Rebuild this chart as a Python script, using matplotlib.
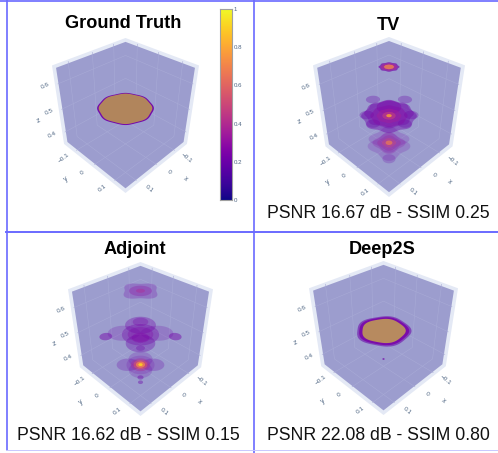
import numpy as np
import matplotlib
matplotlib.use("Agg")
import matplotlib.pyplot as plt

plt.rcParams['font.family'] = ['Liberation Sans', 'DejaVu Sans']

# ---- data: every layer is one iso-surface slice of the reconstructed volume
titles = ["Ground Truth", "TV", "Adjoint", "Deep2S"]
metrics = [None, "PSNR 16.67 dB - SSIM 0.25", "PSNR 16.62 dB - SSIM 0.15", "PSNR 22.08 dB - SSIM 0.80"]
x_ticks = [-0.1, 0.0, 0.1]
y_ticks = [-0.1, 0.0, 0.1]
z_ticks = [0.4, 0.5, 0.6]
tick_text = {-0.1: "\u22120.1", 0.0: "0", 0.1: "0.1"}
cbar_ticks = [0, 0.2, 0.4, 0.6, 0.8, 1]
cbar_text = ["0", "0.2", "0.4", "0.6", "0.8", "1"]

gt_x = [0, 0]; gt_y = [0, 0]
gt_z = [0.512, 0.512]
gt_r = [0.094, 0.089]
gt_val = [0.22, 0.80]
gt_alpha = [0.95, 0.62]
gt_lobes = [8, 8]
gt_amp = [0.018, 0.018]
gt_shade = [1, 0.82]

tv_x = [0, 0, 0, -0.052, 0.052, -0.076, 0.001, -0.002, 0.069, 0, 0, 0, 0, 0, 0, 0, 0.052, 0, 0, 0, 0, 0, 0]
tv_y = [0, 0, 0, 0.052, -0.052, 0.001, -0.076, 0.069, -0.002, 0, 0, 0, 0, 0, 0, 0, 0.052, 0, 0, 0, 0, 0, 0]
tv_z = [0.665, 0.665, 0.665, 0.488, 0.488, 0.515, 0.515, 0.488, 0.488, 0.485, 0.495, 0.52, 0.485, 0.485, 0.485, 0.485,
        0.36, 0.385, 0.352, 0.367, 0.367, 0.367, 0.367]
tv_r = [0.03, 0.024, 0.015, 0.024, 0.024, 0.024, 0.024, 0.022, 0.022, 0.088, 0.078, 0.04, 0.06, 0.04, 0.022, 0.009,
        0.022, 0.062, 0.066, 0.052, 0.038, 0.024, 0.012]
tv_val = [0.22, 0.4, 0.72, 0.2, 0.2, 0.2, 0.2, 0.2, 0.2, 0.2, 0.22, 0.24, 0.28, 0.36, 0.5, 0.8,
          0.2, 0.22, 0.22, 0.3, 0.36, 0.5, 0.7]
tv_alpha = [0.65, 0.65, 0.75, 0.3, 0.3, 0.3, 0.3, 0.3, 0.3, 0.42, 0.35, 0.4, 0.4, 0.45, 0.5, 0.8,
            0.22, 0.18, 0.18, 0.22, 0.28, 0.4, 0.65]
tv_lobes = [8, 8, 8, 4, 4, 4, 4, 4, 4, 8, 8, 4, 8, 8, 8, 4, 4, 4, 4, 4, 4, 4, 4]
tv_amp = [0.05, 0.03, 0.03, 0, 0, 0, 0, 0, 0, 0.05, 0.05, 0, 0.03, 0.03, 0, 0, 0, 0.15, 0.15, 0.12, 0.1, 0.05, 0]

adj_x = [0, 0, 0, 0, -0.085, 0.085, 0, 0, 0, 0, 0, 0, 0, 0, 0.04, 0.052, 0, 0, 0, 0, 0, 0, 0]
adj_y = [0, 0, 0, 0, 0.085, -0.085, 0, 0, 0, 0, 0, 0, 0, 0, 0.04, 0.052, 0, 0, 0, 0, 0, 0, 0]
adj_z = [0.665, 0.665, 0.665, 0.505, 0.49, 0.49, 0.462, 0.50, 0.538, 0.50, 0.485, 0.55, 0.44,
         0.363, 0.352, 0.345, 0.389, 0.337, 0.363, 0.363, 0.363, 0.363, 0.363]
adj_r = [0.056, 0.036, 0.014, 0.06, 0.022, 0.022, 0.052, 0.064, 0.052, 0.044, 0.03, 0.026, 0.016,
         0.046, 0.011, 0.009, 0.044, 0.044, 0.052, 0.036, 0.026, 0.017, 0.008]
adj_val = [0.22, 0.3, 0.4, 0.22, 0.22, 0.22, 0.2, 0.22, 0.22, 0.26, 0.26, 0.24, 0.22,
           0.2, 0.2, 0.2, 0.2, 0.2, 0.22, 0.4, 0.55, 0.72, 0.9]
adj_alpha = [0.25, 0.3, 0.4, 0.22, 0.45, 0.45, 0.34, 0.32, 0.34, 0.3, 0.32, 0.3, 0.3,
             0.25, 0.4, 0.4, 0.2, 0.2, 0.18, 0.4, 0.6, 0.75, 0.95]
adj_lobes = [4, 4, 4, 2, 4, 4, 4, 4, 4, 4, 4, 4, 4, 2, 4, 4, 4, 4, 4, 4, 4, 4, 4]
adj_amp = [-0.12, 0, 0, 0.88, 0, 0, 0, 0, 0, 0, 0, 0, 0, 0.92, 0, 0, 0, 0, 0, 0, 0, 0, 0]

ds_x = [0, 0, 0, 0]; ds_y = [0, 0, 0, 0]
ds_z = [0.512, 0.512, 0.512, 0.385]
ds_r = [0.09, 0.083, 0.072, 0.004]
ds_val = [0.2, 0.24, 0.80, 0.22]
ds_alpha = [0.55, 0.85, 0.62, 0.9]
ds_lobes = [5, 5, 5, 4]
ds_amp = [0.035, 0.03, 0.03, 0]
ds_shade = [1, 1, 0.85, 1]

layers = [
    (gt_x, gt_y, gt_z, gt_r, gt_val, gt_alpha, gt_lobes, gt_amp, gt_shade),
    (tv_x, tv_y, tv_z, tv_r, tv_val, tv_alpha, tv_lobes, tv_amp, [1] * len(tv_z)),
    (adj_x, adj_y, adj_z, adj_r, adj_val, adj_alpha, adj_lobes, adj_amp, [1] * len(adj_z)),
    (ds_x, ds_y, ds_z, ds_r, ds_val, ds_alpha, ds_lobes, ds_amp, ds_shade),
]

# ---- layout in pixels: (left, right, top, bottom) of each box silhouette
boxes = [(52, 199, 38, 193), (313, 465, 37, 197), (68, 213, 262, 416), (309, 458, 261, 415)]
title_pos = [(123, 24), (388, 25), (135, 250), (382, 249)]
metric_pos = [None, (378, 213), (128, 436), (378, 436)]

XR = (-0.16, 0.16); YR = (-0.16, 0.16); ZR = (0.35, 0.67)
EYE = np.array([3.7, 3.7, 3.6])
WALL = "#9c9dce"; BAND = "#e4e9f5"; GRID = "#a8aad6"; TICK = "#506784"; RULE = "#6a6aff"
WALL_RGB = np.array(matplotlib.colors.to_rgb(WALL))

right = np.array([-1, 1, 0]) / np.sqrt(2)
ehat = EYE / np.linalg.norm(EYE)
up = np.cross(ehat, right) * -1
if up[2] < 0:
    up = -up


def norm(x, y, z):
    return np.array([2*(np.asarray(x, float)-XR[0])/(XR[1]-XR[0])-1,
                     2*(np.asarray(y, float)-YR[0])/(YR[1]-YR[0])-1,
                     2*(np.asarray(z, float)-ZR[0])/(ZR[1]-ZR[0])-1], dtype=float)


def raw(x, y, z):
    p = norm(x, y, z)
    d = np.linalg.norm(EYE) - (ehat[0]*p[0]+ehat[1]*p[1]+ehat[2]*p[2])
    return (right[0]*p[0]+right[1]*p[1])/d, (up[0]*p[0]+up[1]*p[1]+up[2]*p[2])/d


corners = np.array([[a, b, c] for a in XR for b in YR for c in ZR]).T
cx, cy = raw(*corners)
rx0, rx1, ry0, ry1 = cx.min(), cx.max(), cy.min(), cy.max()


def make_proj(box):
    l, r, t, b = box
    def proj(x, y, z):
        u, v = raw(x, y, z)
        return l + (u-rx0)/(rx1-rx0)*(r-l), b - (v-ry0)/(ry1-ry0)*(b-t)
    return proj


fig = plt.figure(figsize=(4.98, 4.53), dpi=100)
ax = fig.add_axes([0, 0, 1, 1])
ax.set_xlim(0, 498); ax.set_ylim(453, 0); ax.axis("off")
cmap = plt.get_cmap("plasma")

for i, box in enumerate(boxes):
    P = make_proj(box)
    hx = [XR[0], XR[1], XR[1], XR[1], XR[0], XR[0]]
    hy = [YR[0], YR[0], YR[0], YR[1], YR[1], YR[1]]
    hz = [ZR[1], ZR[1], ZR[0], ZR[0], ZR[0], ZR[1]]
    px, py = P(hx, hy, hz)
    ax.fill(px, py, color=BAND, lw=0, zorder=1)
    mx, my = np.mean(px), np.mean(py)
    ax.fill(mx+0.945*(px-mx), my+0.945*(py-my), color=WALL, lw=0, zorder=2)

    for t in x_ticks:
        a = P([t, t, t], [YR[1]*0.93, YR[0], YR[0]], [ZR[0], ZR[0], ZR[1]*0.99])
        ax.plot(a[0], a[1], color=GRID, lw=0.4, zorder=3)
    for t in y_ticks:
        a = P([XR[1]*0.93, XR[0], XR[0]], [t, t, t], [ZR[0], ZR[0], ZR[1]*0.99])
        ax.plot(a[0], a[1], color=GRID, lw=0.4, zorder=3)
    for t in z_ticks:
        a = P([XR[1]*0.93, XR[0], XR[0]], [YR[0], YR[0], YR[1]*0.93], [t, t, t])
        ax.plot(a[0], a[1], color=GRID, lw=0.4, zorder=3)

    lx, ly, lz, lr, lv, la, ln, lm, ls = layers[i]
    th = np.linspace(0, 2*np.pi, 181)
    for k in range(len(lz)):
        rad = lr[k]*(1+lm[k]*np.cos(ln[k]*(th-0.75*np.pi)))
        q = P(lx[k]+rad*np.cos(th), ly[k]+rad*np.sin(th), np.full_like(th, lz[k]))
        if ls[k] < 1:
            rgb = (np.array(cmap(lv[k])[:3])*la[k] + WALL_RGB*(1-la[k]))*ls[k]
            ax.fill(q[0], q[1], color=rgb, lw=0, zorder=4+k*0.01)
        else:
            ax.fill(q[0], q[1], color=cmap(lv[k]), alpha=la[k], lw=0, zorder=4+k*0.01)

    for t in x_ticks:
        q = P(t, YR[1], ZR[0])
        ax.text(q[0]+10, q[1]+6, tick_text[t], fontsize=4.6, color=TICK, rotation=-40,
                ha="center", va="center", zorder=6)
    for t in y_ticks:
        q = P(XR[1], t, ZR[0])
        ax.text(q[0]-10, q[1]+6, tick_text[t], fontsize=4.6, color=TICK, rotation=38,
                ha="center", va="center", zorder=6)
    for t in z_ticks:
        q = P(XR[1], YR[0], t)
        ax.text(q[0]-10, q[1]+1, f"{t:.1f}", fontsize=4.6, color=TICK, rotation=25,
                ha="center", va="center", zorder=6)
    q = P(0, YR[1], ZR[0]); ax.text(q[0]+26, q[1]+13, "x", fontsize=5, color=TICK, rotation=-40, ha="center", va="center")
    q = P(XR[1], 0, ZR[0]); ax.text(q[0]-26, q[1]+13, "y", fontsize=5, color=TICK, rotation=38, ha="center", va="center")
    q = P(XR[1], YR[0], 0.5); ax.text(q[0]-20, q[1]+10, "z", fontsize=5, color=TICK, rotation=25, ha="center", va="center")

    ax.text(*title_pos[i], titles[i], fontsize=13.1, fontweight="bold", ha="center", va="center", color="black", zorder=7)
    if metrics[i]:
        ax.text(*metric_pos[i], metrics[i], fontsize=12.7, ha="center", va="center", color="#111111", zorder=7)

ax.plot([0, 498], [1, 1], color=RULE, lw=1.2, zorder=8)
ax.plot([6.5, 6.5], [0, 450], color=RULE, lw=1.2, zorder=8)
ax.plot([253.5, 253.5], [0, 453], color=RULE, lw=1.2, zorder=8)
ax.plot([6, 498], [231.5, 231.5], color=RULE, lw=1.4, zorder=8)
ax.plot([6, 498], [450, 450], color="#c8c8ff", lw=0.7, zorder=8)

cax = fig.add_axes([219.5/498, 1-200/453, 12.5/498, 191/453])
cax.imshow(np.linspace(0, 1, 256).reshape(-1, 1), cmap="plasma", origin="lower",
           aspect="auto", extent=[0, 1, 0, 1])
cax.set_xticks([])
cax.yaxis.tick_right()
cax.set_yticks(cbar_ticks)
cax.set_yticklabels(cbar_text, fontsize=4.4, color=TICK)
cax.tick_params(axis="y", length=0, pad=1)
for s in cax.spines.values():
    s.set_color("#a0a0a0"); s.set_linewidth(0.8)

fig.savefig("out.png", dpi=100)
